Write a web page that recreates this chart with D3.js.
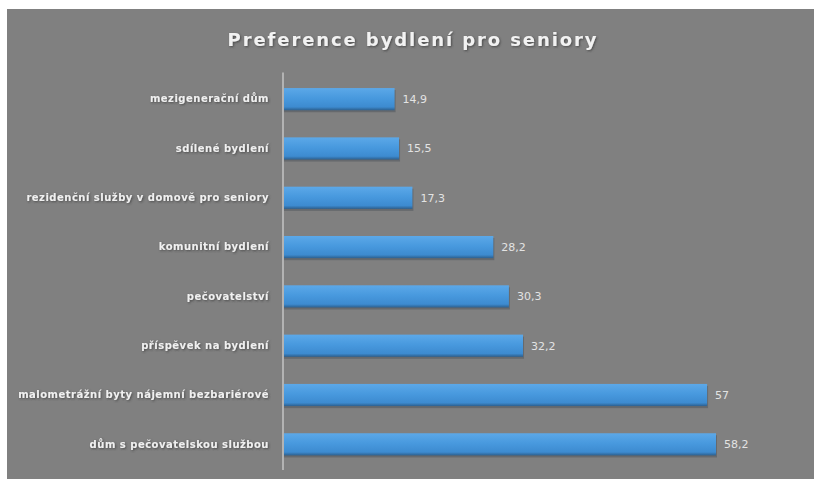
<!DOCTYPE html>
<html>
<head>
<meta charset="utf-8">
<script src="https://cdn.jsdelivr.net/npm/d3@7"></script>
<style>
  html, body { margin: 0; padding: 0; background: #ffffff; }
  svg { display: block; }
</style>
</head>
<body>
<svg id="chart" width="814" height="479"></svg>
<script>
// Housing preferences of seniors (% of respondents)
const categories = [
  "mezigenerační dům",
  "sdílené bydlení",
  "rezidenční služby v domově pro seniory",
  "komunitní bydlení",
  "pečovatelství",
  "příspěvek na bydlení",
  "malometrážní byty nájemní bezbariérové",
  "dům s pečovatelskou službou"
];
const values = [14.9, 15.5, 17.3, 28.2, 30.3, 32.2, 57, 58.2];
const valueLabels = ["14,9", "15,5", "17,3", "28,2", "30,3", "32,2", "57", "58,2"];
const title = "Preference bydlení pro seniory";

const svg = d3.select("#chart");
const W = 814, H = 479;

const defs = svg.append("defs");
const grad = defs.append("linearGradient")
  .attr("id", "barFill").attr("x1", 0).attr("y1", 0).attr("x2", 0).attr("y2", 1);
grad.append("stop").attr("offset", "0%").attr("stop-color", "#5ca8e8");
grad.append("stop").attr("offset", "45%").attr("stop-color", "#4899de");
grad.append("stop").attr("offset", "85%").attr("stop-color", "#3d8bd0");
grad.append("stop").attr("offset", "100%").attr("stop-color", "#2c5f8e");

const shadow = defs.append("filter").attr("id", "textShadow")
  .attr("x", "-10%").attr("y", "-30%").attr("width", "120%").attr("height", "160%");
shadow.append("feDropShadow").attr("dx", 1).attr("dy", 1).attr("stdDeviation", 0.8)
  .attr("flood-color", "#3a3a3a").attr("flood-opacity", 0.8);

// chart area background
svg.append("rect")
  .attr("x", 7).attr("y", 9).attr("width", W - 7).attr("height", H - 9)
  .attr("fill", "#808080");

const margin = { left: 284, top: 74.5, bottom: 469 };
const x = d3.scaleLinear().domain([0, 58.2]).range([margin.left, 716]);
const y = d3.scaleBand().domain(categories).range([margin.top, margin.bottom]).paddingInner(0.55).paddingOuter(0.275);

// title
svg.append("text")
  .attr("x", 413).attr("y", 46)
  .attr("text-anchor", "middle")
  .attr("font-family", "'DejaVu Sans', sans-serif")
  .attr("font-weight", "bold")
  .attr("font-size", 18)
  .attr("letter-spacing", 1.9)
  .attr("fill", "#f2f2f2")
  .attr("filter", "url(#textShadow)")
  .text(title);

// bars with a dark lower edge
const bars = svg.append("g");
bars.selectAll("rect.shade")
  .data(values)
  .join("rect")
  .attr("class", "shade")
  .attr("x", x(0))
  .attr("y", (d, i) => y(categories[i]) + 2)
  .attr("width", d => x(d) - x(0) + 1)
  .attr("height", y.bandwidth())
  .attr("fill", "#555a60")
  .attr("opacity", 0.6);
bars.selectAll("rect.bar")
  .data(values)
  .join("rect")
  .attr("class", "bar")
  .attr("x", x(0))
  .attr("y", (d, i) => y(categories[i]))
  .attr("width", d => x(d) - x(0))
  .attr("height", y.bandwidth())
  .attr("fill", "url(#barFill)");

// vertical category axis
const axis = d3.axisLeft(y).tickSize(0).tickPadding(14);
const gAxis = svg.append("g")
  .attr("transform", `translate(${margin.left - 1},0)`)
  .call(axis);
gAxis.select(".domain")
  .attr("d", `M0,${margin.top - 2}V${margin.bottom + 1}`)
  .attr("stroke", "#c4c4c4").attr("stroke-width", 1.5);
gAxis.selectAll(".tick text")
  .attr("font-family", "'DejaVu Sans', sans-serif")
  .attr("font-size", 10)
  .attr("letter-spacing", 0.5)
  .attr("font-weight", "bold")
  .attr("fill", "#f0f0f0")
  .attr("filter", "url(#textShadow)");

// value labels
svg.append("g").selectAll("text")
  .data(values)
  .join("text")
  .attr("x", d => x(d) + 8)
  .attr("y", (d, i) => y(categories[i]) + y.bandwidth() / 2 + 1)
  .attr("dominant-baseline", "middle")
  .attr("font-family", "'DejaVu Sans', sans-serif")
  .attr("font-size", 11)
  .attr("fill", "#e3e3e3")
  .text((d, i) => valueLabels[i]);
</script>
</body>
</html>
